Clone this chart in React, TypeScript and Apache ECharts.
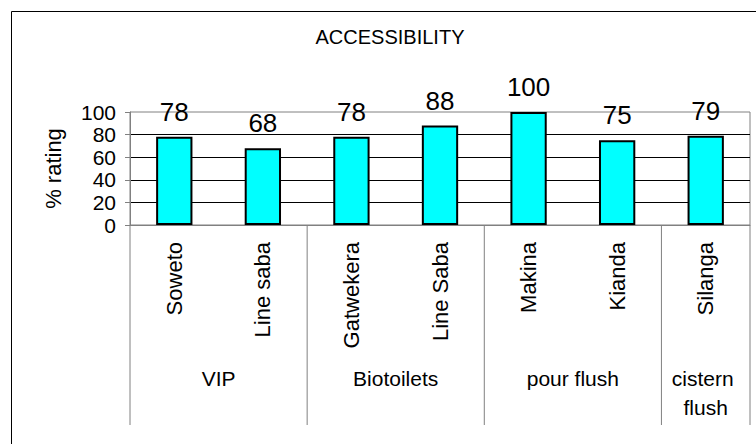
import React, { useEffect, useRef } from "react";
import * as echarts from "echarts";

// Sites, grouped by toilet technology
const categories = ["Soweto", "Line saba", "Gatwekera", "Line Saba", "Makina", "Kianda", "Silanga"];
const ratings = [78, 68, 78, 88, 100, 75, 79];
const groupNames = ["VIP", "Biotoilets", "pour flush", "cistern flush"];
const groupSizes = [2, 2, 2, 1];
const yMin = 0;
const yMax = 100;
const yStep = 20;

const FONT = "'Liberation Sans', Arial, sans-serif";

export default function App() {
  const ref = useRef<HTMLDivElement>(null);

  useEffect(() => {
    if (!ref.current) return;
    const chart = echarts.init(ref.current, undefined, { renderer: "svg" });

    // [firstIndex, lastIndex] of the categories in each group
    const groupSpans: number[][] = [];
    let cursor = 0;
    groupSizes.forEach((n) => {
      groupSpans.push([cursor, cursor + n - 1]);
      cursor += n;
    });

    const option: any = {
      animation: false,
      backgroundColor: "#fff",
      title: {
        text: "ACCESSIBILITY",
        left: 390,
        top: 27,
        textAlign: "center",
        padding: 0,
        textStyle: { fontFamily: FONT, fontSize: 20, fontWeight: "normal", color: "#000" },
      },
      graphic: [
        {
          type: "rect",
          silent: true,
          shape: { x: 11.5, y: 11.5, width: 800, height: 500 },
          style: { fill: "none", stroke: "#000", lineWidth: 1 },
        },
      ],
      grid: {
        left: 130,
        right: 6,
        top: 112,
        bottom: 219,
        show: true,
        borderColor: "#808080",
        borderWidth: 1,
        backgroundColor: "transparent",
      },
      xAxis: {
        type: "category",
        data: categories,
        axisLine: { lineStyle: { color: "#808080", width: 1 } },
        axisTick: { length: 122, lineStyle: { color: "#808080", width: 1 } },
        axisLabel: {
          interval: 0,
          rotate: 90,
          margin: 17,
          fontFamily: FONT,
          fontSize: 22,
          color: "#000",
        },
        splitLine: { show: false },
      },
      yAxis: {
        type: "value",
        min: yMin,
        max: yMax,
        interval: yStep,
        name: "% rating",
        nameLocation: "middle",
        nameGap: 66,
        nameTextStyle: { fontFamily: FONT, fontSize: 22, color: "#000" },
        axisLine: { show: true, lineStyle: { color: "#808080", width: 1 } },
        axisTick: { show: true, length: 5, lineStyle: { color: "#808080", width: 1 } },
        axisLabel: { margin: 14, fontFamily: FONT, fontSize: 21, color: "#000" },
        splitLine: {
          show: true,
          showMinLine: false,
          showMaxLine: false,
          lineStyle: { color: "#000", width: 1 },
        },
      },
      series: [
        {
          type: "bar",
          data: ratings,
          barWidth: "41%",
          itemStyle: { color: "#00FFFF", borderColor: "#000", borderWidth: 2 },
          label: {
            show: true,
            position: "top",
            distance: 12,
            fontFamily: FONT,
            fontSize: 26,
            color: "#000",
          },
        },
        {
          // group separators and group names below the site labels
          type: "custom",
          silent: true,
          clip: false,
          encode: { x: 0, y: 2 },
          data: groupSpans.map((s) => [s[0], s[1], 0]),
          renderItem: (params: any, api: any) => {
            const i = params.dataIndex;
            const a = api.coord([api.value(0), 0]);
            const b = api.coord([api.value(1), 0]);
            const band = api.size([1, 0])[0];
            const left = a[0] - band / 2;
            const right = b[0] + band / 2;
            const y0 = a[1];
            const children: any[] = [
              {
                type: "line",
                shape: { x1: left, y1: y0, x2: left, y2: y0 + 200 },
                style: { stroke: "#808080", lineWidth: 1 },
              },
              {
                type: "text",
                style: {
                  x: (left + right) / 2,
                  y: y0 + 139,
                  text: groupNames[i],
                  width: right - left - 10,
                  overflow: "break",
                  align: "center",
                  verticalAlign: "top",
                  lineHeight: 29,
                  fontFamily: FONT,
                  fontSize: 21,
                  fill: "#000",
                },
              },
            ];
            if (i === groupSpans.length - 1) {
              children.push({
                type: "line",
                shape: { x1: right, y1: y0, x2: right, y2: y0 + 200 },
                style: { stroke: "#808080", lineWidth: 1 },
              });
            }
            return { type: "group", children };
          },
        },
      ],
    };

    chart.setOption(option);
    return () => chart.dispose();
  }, []);

  return (
    <div
      ref={ref}
      style={{ position: "absolute", left: 0, top: 0, width: 756, height: 444, background: "#fff" }}
    />
  );
}
